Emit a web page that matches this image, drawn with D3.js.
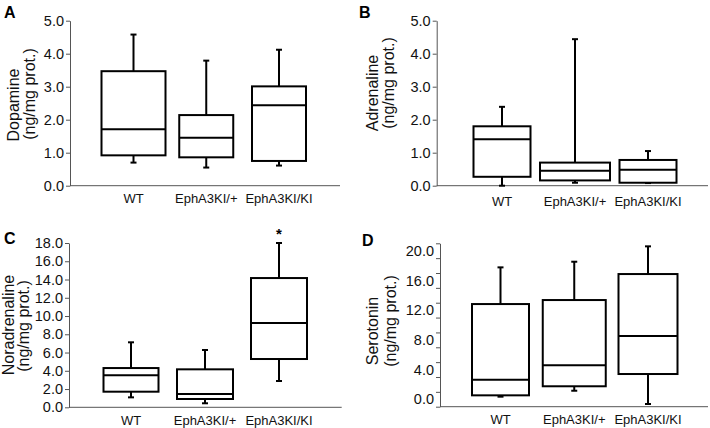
<!DOCTYPE html>
<html><head><meta charset="utf-8">
<script src="https://cdn.jsdelivr.net/npm/d3@7/dist/d3.min.js"></script>
<style>
body{margin:0;background:#fff}
text{font-family:"Liberation Sans",Arial,Helvetica,sans-serif}
</style>
</head><body>
<svg id="chart" width="710" height="428"></svg>
<script>
// ---- data: [min, q1, median, q3, max] per category ----
const categories = ["WT", "EphA3KI/+", "EphA3KI/KI"];
const dopamine      = [[0.70, 0.92, 1.71, 3.47, 4.58], [0.55, 0.86, 1.45, 2.14, 3.79], [0.61, 0.75, 2.44, 3.01, 4.12]];
const adrenaline    = [[0.00, 0.27, 1.41, 1.80, 2.39], [0.09, 0.16, 0.45, 0.70, 4.44], [0.08, 0.09, 0.48, 0.78, 1.05]];
const noradrenaline = [[1.09, 1.71, 3.50, 4.30, 7.12], [0.44, 0.91, 1.46, 4.16, 6.28], [2.88, 5.29, 9.23, 14.16, 18.00]];
const serotonin     = [[0.35, 0.53, 2.63, 12.82, 17.76], [1.15, 1.75, 4.57, 13.36, 18.52], [-0.64, 3.40, 8.52, 16.86, 20.59]];
const significance  = ["", "", "*"];   // panel C
// ---- tick labels ----
const dopamineTicks      = [0, 1, 2, 3, 4, 5];
const adrenalineTicks    = [0, 1, 2, 3, 4, 5];
const noradrenalineTicks = [0, 2, 4, 6, 8, 10, 12, 14, 16, 18];
const serotoninTicks     = [0, 4, 8, 12, 16, 20];
const serotoninMinorTicks= [-1, 1, 3, 5, 7, 9, 11, 13, 15, 17, 19, 21];
const unitLabel = "(ng/mg prot.)";

// ---- layout (positions/sizes only) ----
const panels = [
  {letter:"A", data:dopamine, title:"Dopamine", ticks:dopamineTicks, minor:null, domain:[0,5],
   axisX:70, yTop:20.7, yBot:185.7, xEnd:340, pts:[133.5,279], boxW:[64,54,54],
   letterPos:[4,18], titleX:[13,29], titleY:[105,94], catDy:17.6, marks:null},
  {letter:"B", data:adrenaline, title:"Adrenaline", ticks:adrenalineTicks, minor:null, domain:[0,5],
   axisX:436.7, yTop:20.7, yBot:185.7, xEnd:708, pts:[502,648], boxW:[57,70,57],
   letterPos:[359,18], titleX:[372,388], titleY:[93,83], catDy:20, marks:null},
  {letter:"C", data:noradrenaline, title:"Noradrenaline", ticks:noradrenalineTicks, minor:null, domain:[0,18],
   axisX:69, yTop:243, yBot:407.3, xEnd:341.7, pts:[131,279], boxW:[55,56,56],
   letterPos:[4,244], titleX:[8,23], titleY:[325,326], catDy:18, marks:significance},
  {letter:"D", data:serotonin, title:"Serotonin", ticks:serotoninTicks, minor:serotoninMinorTicks, domain:[-1,21],
   axisX:440, yTop:243.3, yBot:406.7, xEnd:708, pts:[500.5,648], boxW:[57,63,59],
   letterPos:[362,246], titleX:[372,390], titleY:[331,321], catDy:17.5, marks:null}
];

const svg = d3.select("#chart");
const axisColor = "#555";
const fmt = d3.format(".1f");

panels.forEach(p => {
  const g = svg.append("g");
  const y = d3.scaleLinear().domain(p.domain).range([p.yBot, p.yTop]);
  const x = d3.scalePoint().domain(categories).range(p.pts);

  // panel letter
  g.append("text").attr("x", p.letterPos[0]).attr("y", p.letterPos[1])
    .attr("font-size", 16).attr("font-weight", "bold").text(p.letter);

  // y axis
  if (p.minor) {
    const ax = g.append("g").attr("transform", `translate(${p.axisX},0)`)
      .call(d3.axisLeft(y).tickValues(p.minor).tickFormat("").tickSize(4).tickSizeOuter(0));
    ax.selectAll("path,line").attr("stroke", axisColor);
    const lab = g.append("g").attr("transform", `translate(${p.axisX},0)`)
      .call(d3.axisLeft(y).tickValues(p.ticks).tickFormat(fmt).tickSize(0).tickPadding(6));
    lab.select(".domain").remove();
    lab.selectAll("text").attr("font-size", 14.5).attr("fill", "#111")
      .attr("font-family", '"Liberation Sans",Arial,sans-serif');
  } else {
    const ax = g.append("g").attr("transform", `translate(${p.axisX},0)`)
      .call(d3.axisLeft(y).tickValues(p.ticks).tickFormat(fmt).tickSize(4).tickSizeOuter(0).tickPadding(2));
    ax.selectAll("path,line").attr("stroke", axisColor);
    ax.selectAll("text").attr("font-size", 14.5).attr("fill", "#111")
      .attr("font-family", '"Liberation Sans",Arial,sans-serif');
  }

  // x axis line
  g.append("line").attr("x1", p.axisX).attr("x2", p.xEnd)
    .attr("y1", p.yBot).attr("y2", p.yBot).attr("stroke", axisColor).attr("stroke-width", 1);

  // category labels
  g.selectAll(".cat").data(categories).join("text")
    .attr("x", d => x(d)).attr("y", p.yBot + p.catDy)
    .attr("text-anchor", "middle").attr("font-size", 13).attr("fill", "#111").text(d => d);

  // axis titles
  [p.title, unitLabel].forEach((t, i) => {
    g.append("text")
      .attr("transform", `translate(${p.titleX[i]},${p.titleY[i]}) rotate(-90)`)
      .attr("text-anchor", "middle").attr("dominant-baseline", "central")
      .attr("font-size", 16).attr("fill", "#111").text(t);
  });

  // boxes
  const bx = g.selectAll(".box").data(p.data).join("g");
  bx.each(function(d, i) {
    const c = x(categories[i]);
    const w = p.boxW[i];
    const s = d3.select(this);
    const [mn, q1, md, q3, mx] = d;
    const L = (x1,y1,x2,y2) => s.append("line").attr("x1",x1).attr("y1",y1).attr("x2",x2).attr("y2",y2)
      .attr("stroke","#000").attr("stroke-width",2);
    // whiskers
    L(c, y(q3), c, y(mx));
    L(c - 3, y(mx), c + 3, y(mx));
    L(c, y(q1), c, y(mn));
    L(c - 3, y(mn), c + 3, y(mn));
    // box
    s.append("rect").attr("x", c - w/2).attr("width", w)
      .attr("y", y(q3)).attr("height", y(q1) - y(q3))
      .attr("fill", "#fff").attr("stroke", "#000").attr("stroke-width", 2);
    L(c - w/2, y(md), c + w/2, y(md));
    if (p.marks && p.marks[i]) {
      s.append("text").attr("x", c).attr("y", y(mx) - 4).attr("text-anchor", "middle")
        .attr("font-size", 15).attr("font-weight", "bold").text(p.marks[i]);
    }
  });
});
</script>
</body></html>
